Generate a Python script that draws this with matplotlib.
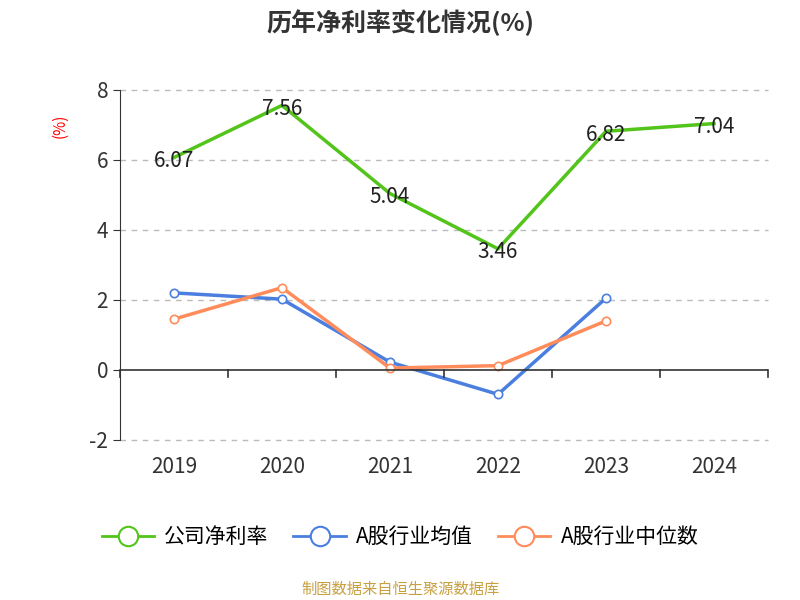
import matplotlib.pyplot as plt
from matplotlib.lines import Line2D

plt.rcParams['font.family'] = ['Noto Sans CJK JP', 'Noto Sans CJK SC', 'DejaVu Sans']
plt.rcParams['axes.unicode_minus'] = False

# chart data
years = ['2019', '2020', '2021', '2022', '2023', '2024']
company = [6.07, 7.56, 5.04, 3.46, 6.82, 7.04]
industry_avg = [2.2, 2.02, 0.22, -0.7, 2.05]
industry_median = [1.45, 2.35, 0.05, 0.12, 1.4]
y_ticks = [-2, 0, 2, 4, 6, 8]

green = '#52c41a'
blue = '#4a7fe0'
orange = '#ff8c5a'

fig = plt.figure(figsize=(8, 6), dpi=100)
ax = fig.add_axes([0.15, 0.267, 0.81, 0.583])

x = list(range(len(years)))
ax.plot(x, company, color=green, lw=2.5)
for i, v in enumerate(company):
    ax.text(i, v - 0.1, f'{v:.2f}', ha='center', va='center', fontsize=15, color='#222')
ax.plot(x[:5], industry_avg, color=blue, lw=2.5, marker='o', ms=6,
        mfc='white', mec=blue, mew=1.2)
ax.plot(x[:5], industry_median, color=orange, lw=2.5, marker='o', ms=6,
        mfc='white', mec=orange, mew=1.2)

ax.set_xlim(-0.5, 5.5)
ax.set_ylim(-2, 8)
ax.set_yticks(y_ticks)
for t in y_ticks:
    if t != 0:
        ax.axhline(t, ls=(0, (4, 4)), color='#bbbbbb', lw=1, clip_on=False, zorder=0)

for s in ['top', 'right', 'bottom']:
    ax.spines[s].set_visible(False)
ax.spines['left'].set_color('#333')
ax.axhline(0, color='#333', lw=1.2)
# category boundary ticks on the zero line
for b in [i - 0.5 for i in range(7)]:
    ax.plot([b, b], [0, -0.2], color='#333', lw=1.2, clip_on=False)

ax.set_xticks(x)
ax.set_xticklabels(years)
ax.tick_params(axis='x', length=0, labelsize=15, pad=12, labelcolor='#333')
ax.tick_params(axis='y', labelsize=15, labelcolor='#333', color='#333', length=5)

fig.text(0.075, 0.79, '(%)', color='red', fontsize=11, rotation=90, ha='center', va='center')
fig.text(0.5, 0.962, '历年净利率变化情况(%)', ha='center', va='center',
         fontsize=18, fontweight='bold', color='#333')

handles = [Line2D([0], [0], color=c, lw=2, marker='o', ms=14, mfc='white', mec=c, mew=1.5)
           for c in [green, blue, orange]]
fig.legend(handles, ['公司净利率', 'A股行业均值', 'A股行业中位数'], loc='center',
           bbox_to_anchor=(0.5, 0.105), ncol=3, frameon=False, fontsize=15,
           handlelength=2.5, columnspacing=1.2, handletextpad=0.5)

fig.text(0.5, 0.018, '制图数据来自恒生聚源数据库', ha='center', va='center',
         fontsize=11, color='#c8a040')

fig.savefig('out.png', dpi=100)
